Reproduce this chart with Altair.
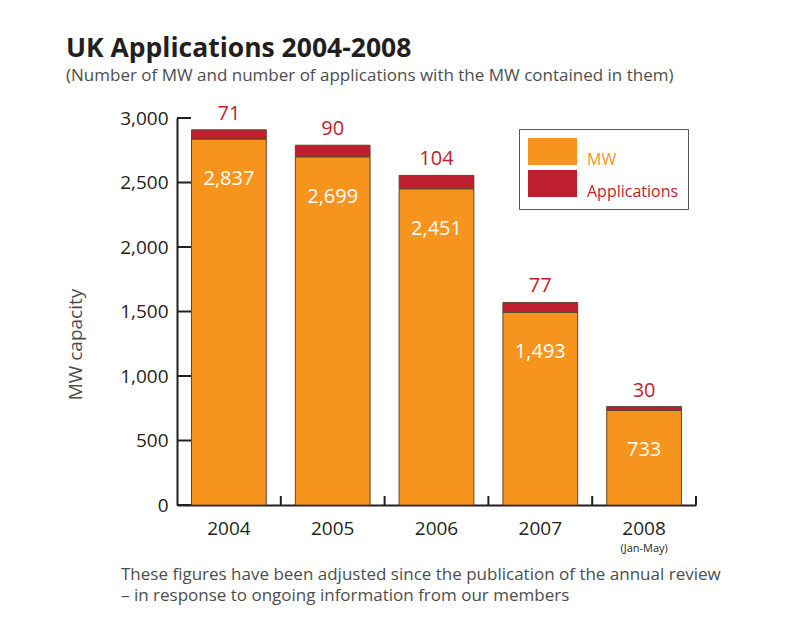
import altair as alt
import pandas as pd

# ---- data ----
years = ["2004", "2005", "2006", "2007", "2008"]
mw = [2837, 2699, 2451, 1493, 733]
applications = [71, 90, 104, 77, 30]
series = ["MW", "Applications"]
y_ticks = [0, 500, 1000, 1500, 2000, 2500, 3000]
note_years = ["2008"]
note_texts = ["(Jan-May)"]
footnote_lines = [
    "These figures have been adjusted since the publication of the annual review",
    "\u2013 in response to ongoing information from our members",
]
title_text = "UK Applications 2004-2008"
subtitle_text = "(Number of MW and number of applications with the MW contained in them)"

ORANGE = "#F7941E"
RED = "#BE1E2D"
INK = "#231F20"
GREY = "#4D4D4D"
W, H = 519, 387

rows = []
for y, m, a in zip(years, mw, applications):
    rows.append({"year": y, "series": series[0], "value": m, "ord": 0})
    rows.append({"year": y, "series": series[1], "value": a, "ord": 1})
long_df = pd.DataFrame(rows)
wide_df = pd.DataFrame({"year": years, "mw": mw, "apps": applications})
tick_df = pd.DataFrame({"v": y_ticks})
note_df = pd.DataFrame({"year": note_years, "note": note_texts})
foot_df = pd.DataFrame({"text": ["\n".join(footnote_lines)]})

x_scale = alt.Scale(domain=years, paddingInner=0, paddingOuter=0)
x_axis = alt.Axis(
    title=None, labelAngle=0, labelFontSize=19, labelColor=INK, labelPadding=14,
    ticks=False, domainColor=INK, domainWidth=2, grid=False,
)
y_scale = alt.Scale(domain=[0, 3000], nice=False)
y_axis = alt.Axis(
    title="MW capacity", values=y_ticks, labelExpr="format(datum.value, ',')",
    ticks=False, grid=False,
    domainColor=INK, domainWidth=2, labelFontSize=19, labelColor=INK, labelPadding=9,
    titleFontSize=19, titleFontWeight="normal", titleColor=GREY,
    titleX=-102, titleY=226, titleAlign="center", titleBaseline="middle",
)

X = alt.X("year:N", scale=x_scale, axis=x_axis)

bars = alt.Chart(long_df).mark_bar(
    width=alt.RelativeBandSize(0.72), stroke="#5C4632", strokeWidth=1
).encode(
    x=X,
    y=alt.Y("value:Q", stack="zero", scale=y_scale, axis=y_axis),
    color=alt.Color(
        "series:N",
        scale=alt.Scale(domain=series, range=[ORANGE, RED]),
        legend=alt.Legend(
            orient="none", legendX=342, legendY=11, title=None,
            strokeColor="#555555", fillColor="white", padding=9,
            symbolType="M-1,-1H2.63V1H-1Z", symbolSize=729,
            symbolStrokeWidth=0, symbolOpacity=1,
            labelFontSize=16, labelOffset=32, rowPadding=2, labelBaseline="top",
            labelColor=alt.ExprRef(expr=f"datum.label == 'MW' ? '{ORANGE}' : '{RED}'"),
        ),
    ),
    order=alt.Order("ord:Q"),
)

mw_labels = alt.Chart(wide_df).mark_text(
    baseline="middle", dy=40, fontSize=20, color="white"
).encode(
    x=X,
    y=alt.Y("mw:Q", scale=y_scale, axis=y_axis),
    text=alt.Text("mw:Q", format=","),
)

app_labels = alt.Chart(wide_df).transform_calculate(
    total="datum.mw + datum.apps"
).mark_text(
    baseline="middle", dy=-16, fontSize=20, color=RED
).encode(
    x=X,
    y=alt.Y("total:Q", scale=y_scale, axis=y_axis),
    text=alt.Text("apps:Q"),
)

y_tick_rules = alt.Chart(tick_df).mark_rule(color=INK, strokeWidth=2).encode(
    y=alt.Y("v:Q", scale=y_scale, axis=y_axis),
    x=alt.value(0),
    x2=alt.value(14),
)

x_tick_rules = alt.Chart(wide_df).mark_rule(color=INK, strokeWidth=2).encode(
    x=alt.X("year:N", bandPosition=1, scale=x_scale, axis=x_axis),
    y=alt.value(H),
    y2=alt.value(H - 9),
)

notes = alt.Chart(note_df).mark_text(
    baseline="middle", fontSize=11, color=INK
).encode(
    x=X,
    y=alt.value(H + 44),
    text="note:N",
)

foot = alt.Chart(foot_df).mark_text(
    align="left", baseline="alphabetic", lineBreak="\n", lineHeight=21,
    fontSize=17, color=GREY
).encode(
    x=alt.value(-56),
    y=alt.value(462),
    text="text:N",
)

chart = alt.layer(
    bars, mw_labels, app_labels, y_tick_rules, x_tick_rules, notes, foot
).properties(
    width=W,
    height=H,
    padding={"left": 169, "top": 110, "right": 80, "bottom": 105},
    autosize=alt.AutoSizeParams(type="none"),
    title=alt.TitleParams(
        text=title_text, subtitle=subtitle_text, anchor="start", frame="group",
        dx=-111, fontSize=26.5, fontWeight="bold", color=INK,
        subtitleFontSize=17, subtitleColor=GREY, subtitlePadding=5,
        offset=20,
    ),
).configure(
    font="Open Sans", background="white"
).configure_view(stroke=None)

chart.save("out.html", embed_options={"renderer": "svg", "actions": False})
